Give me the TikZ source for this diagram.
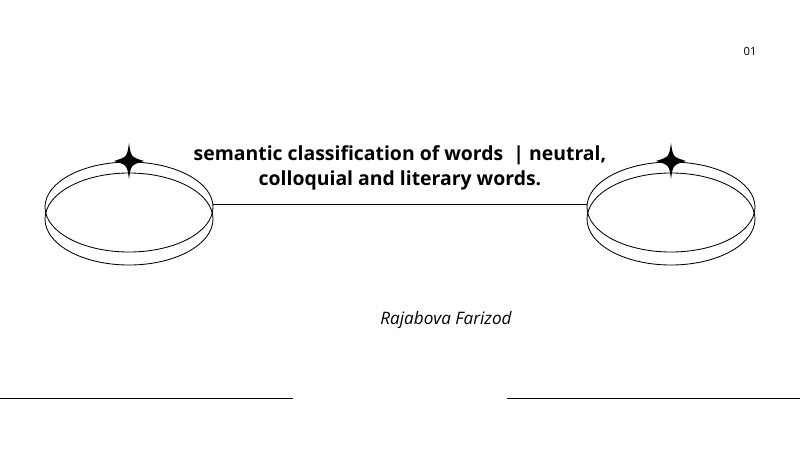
\documentclass[tikz,border=0pt]{standalone}
\usepackage{fontspec}
\setmainfont{Open Sans}
\tikzset{
  ring/.style={line width=.6pt},
  sparkle/.pic={\fill (0,-18) .. controls (2,-4) .. (15,0) .. controls (2,4) .. (0,18) .. controls (-2,4) .. (-15,0) .. controls (-2,-4) .. cycle;},
  rule/.style={line width=.6pt}
}
\begin{document}
\begin{tikzpicture}[x=0.025cm,y=-0.025cm]
\useasboundingbox (0,0) rectangle (800,450);
% left rings
\draw[ring] (129,207) ellipse (84 and 45);
\draw[ring] (129,219) ellipse (84 and 46);
\pic at (129,161) {sparkle};
% right rings
\draw[ring] (671,207) ellipse (84 and 45);
\draw[ring] (671,219) ellipse (84 and 46);
\pic at (671,161) {sparkle};
\coordinate (l) at (213,204);
\coordinate (r) at (587,204);
\draw[rule] (l)--(r);
\node[font=\bfseries\fontsize{13.8}{17.5}\selectfont,align=center] (title) at (400,168)
  {semantic classification of words~~| neutral,\\colloquial and literary words.};
\node[font=\itshape\fontsize{12.2}{14}\selectfont] (author) at (446,320) {Rajabova Farizod};
\node[font=\fontsize{8}{10}\selectfont] (num) at (750,51) {01};
% bottom rules
\coordinate (a1) at (0,398); \coordinate (a2) at (293,398);
\coordinate (b1) at (507,398); \coordinate (b2) at (800,398);
\draw[rule] (a1)--(a2);
\draw[rule] (b1)--(b2);
\end{tikzpicture}
\end{document}
